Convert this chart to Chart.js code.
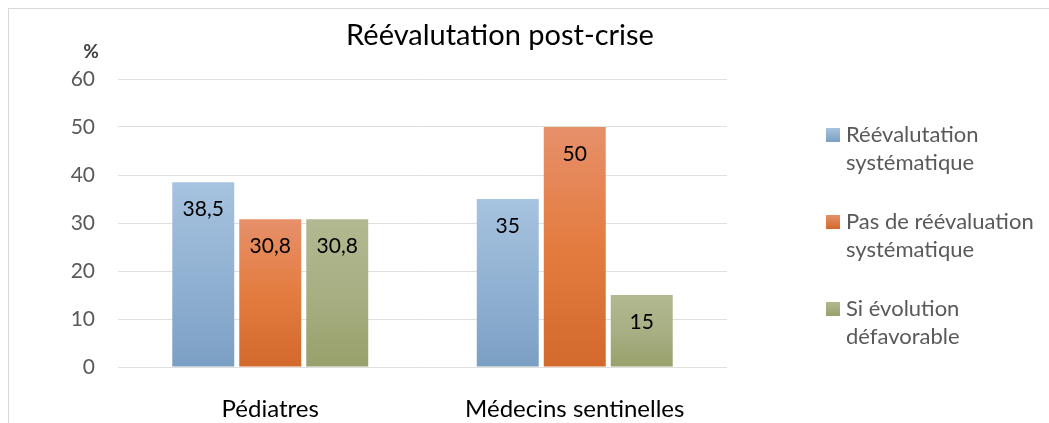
<!DOCTYPE html>
<html>
<head>
<meta charset="utf-8">
<script src="https://cdn.jsdelivr.net/npm/chart.js@4/dist/chart.umd.min.js"></script>
<style>
  html, body { margin: 0; padding: 0; background: #ffffff; }
  #wrap { position: relative; width: 1049px; height: 423px; }
</style>
</head>
<body>
<div id="wrap"><canvas id="c"></canvas></div>
<script>
const chartTitle = 'Réévalutation post-crise';
const yAxisTitle = '%';
const categories = ['Pédiatres', 'Médecins sentinelles'];
const seriesNames = [
  ['Réévalutation', 'systématique'],
  ['Pas de réévaluation', 'systématique'],
  ['Si évolution', 'défavorable']
];
const reevaluationSystematique = [38.5, 35];
const pasDeReevaluation = [30.8, 50];
const siEvolutionDefavorable = [30.8, 15];
const yTickMin = 0, yTickMax = 60, yTickStep = 10;

const palette = [
  { top: '#a6c3df', mid: '#92b2d3', bottom: '#7b9fc4' },
  { top: '#e6906a', mid: '#e47c40', bottom: '#d3692c' },
  { top: '#b2b992', mid: '#a8af83', bottom: '#98a06b' }
];

function barGradient(p) {
  return function (ctx) {
    const chart = ctx.chart;
    const ys = chart.scales && chart.scales.y;
    if (ctx.type !== 'data' || !ys) return p.mid;
    const v = ctx.parsed ? ctx.parsed.y : ctx.raw;
    const yTop = ys.getPixelForValue(v);
    const yBase = ys.getPixelForValue(0);
    if (!isFinite(yTop) || !isFinite(yBase) || yTop === yBase) return p.mid;
    const g = chart.ctx.createLinearGradient(0, yTop, 0, yBase);
    g.addColorStop(0, p.top);
    g.addColorStop(0.5, p.mid);
    g.addColorStop(1, p.bottom);
    return g;
  };
}

const FONT = 'Lato, "Open Sans", sans-serif';

const decorPlugin = {
  id: 'decor',
  beforeDraw(chart) {
    const c = chart.ctx;
    c.save();
    c.fillStyle = '#ffffff';
    c.fillRect(0, 0, chart.width, chart.height);
    c.strokeStyle = '#dcd8d6';
    c.lineWidth = 1;
    c.strokeRect(8.5, 8.5, chart.width + 50, chart.height + 50);
    c.restore();
  },
  afterDatasetsDraw(chart) {
    const c = chart.ctx;
    c.save();
    c.font = '21px ' + FONT;
    c.fillStyle = '#000000';
    c.textAlign = 'center';
    c.textBaseline = 'middle';
    chart.data.datasets.forEach((ds, i) => {
      const meta = chart.getDatasetMeta(i);
      meta.data.forEach((el, j) => {
        const txt = String(ds.data[j]).replace('.', ',');
        c.fillText(txt, el.x, el.y + 27);
      });
    });
    c.restore();
  },
  afterDraw(chart) {
    const c = chart.ctx;
    const area = chart.chartArea;
    c.save();
    // title
    c.font = '29px ' + FONT;
    c.fillStyle = '#000000';
    c.textAlign = 'center';
    c.textBaseline = 'alphabetic';
    c.fillText(chartTitle, 500, 45);
    // y axis unit
    c.font = 'bold 19px ' + FONT;
    c.fillStyle = '#404040';
    c.textBaseline = 'middle';
    c.fillText(yAxisTitle, 91, 52);
    // legend
    const lx = area.right + 99;
    let ly = 135;
    chart.data.datasets.forEach((ds, i) => {
      const p = palette[i];
      const g = c.createLinearGradient(0, ly - 7, 0, ly + 7);
      g.addColorStop(0, p.top);
      g.addColorStop(1, p.bottom);
      c.fillStyle = g;
      c.fillRect(lx, ly - 7, 14, 14);
      c.font = '22px ' + FONT;
      c.fillStyle = '#595959';
      c.textAlign = 'left';
      c.textBaseline = 'middle';
      seriesNames[i].forEach((line, k) => {
        c.fillText(line, lx + 20, ly + k * 28);
      });
      ly += 87;
    });
    c.restore();
  }
};

const data = {
  labels: categories,
  datasets: [reevaluationSystematique, pasDeReevaluation, siEvolutionDefavorable].map((vals, i) => ({
    label: seriesNames[i].join(' '),
    data: vals,
    backgroundColor: barGradient(palette[i]),
    borderWidth: 0,
    categoryPercentage: 0.66,
    barPercentage: 0.925
  }))
};

new Chart(document.getElementById('c'), {
  type: 'bar',
  data: data,
  options: {
    responsive: true,
    maintainAspectRatio: false,
    animation: false,
    layout: { padding: { left: 0, top: 79, right: 322, bottom: 0 } },
    plugins: {
      legend: { display: false },
      title: { display: false },
      tooltip: { enabled: false }
    },
    scales: {
      x: {
        grid: { display: false, drawTicks: false },
        border: { display: false },
        ticks: { font: { family: FONT, size: 24 }, color: '#000000', padding: 28 },
        afterFit(scale) { scale.height = 56; }
      },
      y: {
        min: yTickMin,
        max: yTickMax,
        grid: { color: '#e2dedc', lineWidth: 1, drawTicks: false },
        border: { display: false },
        ticks: { stepSize: yTickStep, font: { family: FONT, size: 21 }, color: '#595959', padding: 23 },
        afterFit(scale) { scale.width = 118; }
      }
    }
  },
  plugins: [decorPlugin]
});
</script>
</body>
</html>
